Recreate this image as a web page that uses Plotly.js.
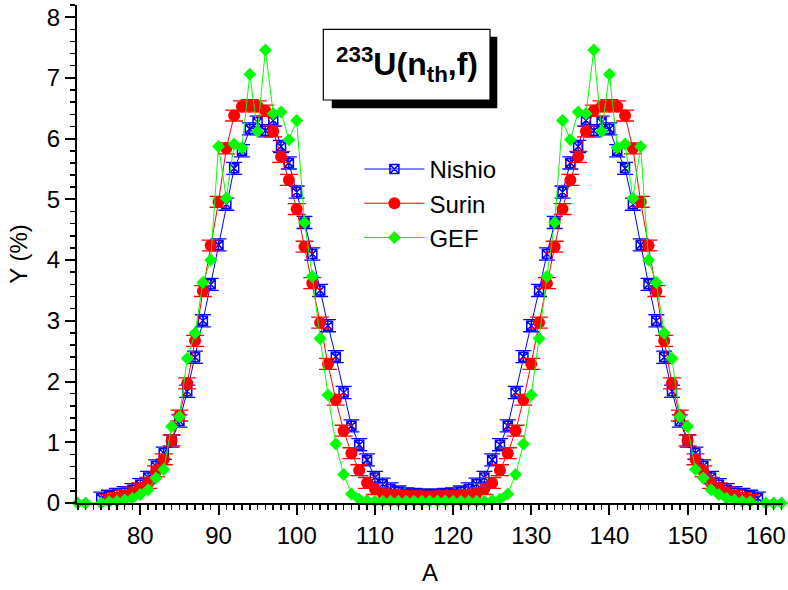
<!DOCTYPE html>
<html>
<head>
<meta charset="utf-8">
<script src="https://cdn.plot.ly/plotly-3.0.1.min.js"></script>
<style>
  html, body { margin: 0; padding: 0; background: #fff; }
  #chart { width: 788px; height: 590px; }
</style>
</head>
<body>
<div id="chart"></div>
<script>
// Mass yields of 233U(nth,f): Nishio and Surin measurements, GEF calculation.
const nishioA = [75,76,77,78,79,80,81,82,83,84,85,86,87,88,89,90,91,92,93,94,95,96,97,98,99,100,
  101,102,103,104,105,106,107,108,109,110,111,112,113,114,115,116,117,118,119,120,121,122,123,124,125,
  126,127,128,129,130,131,132,133,134,135,136,137,138,139,140,141,142,143,144,145,146,147,148,149,150,
  151,152,153,154,155,156,157,158,159];
const nishioY = [
  0.08,0.11,0.14,0.17,0.22,0.30,0.42,0.61,0.82,1.02,
  1.35,1.84,2.40,3.00,3.60,4.25,4.92,5.51,5.80,6.16,
  6.27,6.13,6.30,5.87,5.60,5.12,4.62,4.10,3.50,2.92,
  2.41,1.82,1.27,0.96,0.71,0.42,0.31,0.23,0.18,0.15,
  0.14,0.13,0.13,0.13,0.14,0.15,0.18,0.23,0.31,0.42,
  0.71,0.96,1.27,1.82,2.41,2.92,3.50,4.10,4.62,5.12,
  5.60,5.87,6.30,6.13,6.27,6.16,5.80,5.51,4.92,4.25,
  3.60,3.00,2.40,1.84,1.35,1.02,0.82,0.61,0.42,0.30,
  0.22,0.17,0.14,0.11,0.08];

const surinA = [76,77,78,79,80,81,82,83,84,85,86,87,88,89,90,91,92,93,94,95,96,97,98,99,100,
  101,102,103,104,105,106,107,108,109,110,111,112,113,114,115,116,117,118,119,120,121,122,123,124,125,
  126,127,128,129,130,131,132,133,134,135,136,137,138,139,140,141,142,143,144,145,146,147,148,149,150,
  151,152,153,154,155,156,157,158];
const surinY = [
  0.05,0.08,0.12,0.17,0.24,0.33,0.52,0.72,1.03,1.44,
  1.97,2.67,3.49,4.24,4.96,5.84,6.38,6.53,6.55,6.53,
  6.46,6.12,5.70,5.32,4.84,4.22,3.62,2.97,2.29,1.70,
  1.19,0.82,0.54,0.33,0.23,0.16,0.13,0.12,0.11,0.11,
  0.10,0.10,0.10,0.11,0.11,0.12,0.13,0.16,0.23,0.33,
  0.54,0.82,1.19,1.70,2.29,2.97,3.62,4.22,4.84,5.32,
  5.70,6.12,6.46,6.53,6.55,6.53,6.38,5.84,4.96,4.24,
  3.49,2.67,1.97,1.44,1.03,0.72,0.52,0.33,0.24,0.17,
  0.12,0.08,0.05];

const gefA = [72,73,75,76,77,78,79,80,81,82,83,84,85,86,87,88,89,90,91,92,93,94,95,96,97,98,99,100,
  101,102,103,104,105,106,107,108,109,110,111,112,113,114,115,116,117,118,119,120,121,122,123,124,125,
  126,127,128,129,130,131,132,133,134,135,136,137,138,139,140,141,142,143,144,145,146,147,148,149,150,
  151,152,153,154,155,156,157,158,160,161,162];
const gefY = [
  0,0,
  0,0.02,0.03,0.05,0.08,0.14,0.22,0.41,0.55,1.26,
  1.42,2.38,2.80,3.63,4.00,5.87,5.02,5.91,5.85,7.06,
  6.12,7.46,6.41,6.44,5.98,6.30,4.62,3.73,2.71,1.78,
  0.97,0.47,0.15,0.06,0.04,0.03,0.03,0.03,0.03,0.03,
  0.03,0.03,0.03,0.03,0.03,0.03,0.03,0.03,0.03,0.03,
  0.04,0.06,0.15,0.47,0.97,1.78,2.71,3.73,4.62,6.30,
  5.98,6.44,6.41,7.46,6.12,7.06,5.85,5.91,5.02,5.87,
  4.00,3.63,2.80,2.38,1.42,1.26,0.55,0.41,0.22,0.14,
  0.08,0.05,0.03,0.02,
  0,0,0];

const seriesNames = ['Nishio', 'Surin', 'GEF'];
const nishioErr = 0.10;
const surinErr = 0.09;

const FONT = 'Liberation Sans, Arial, sans-serif';
const BLUE = '#0000ff', RED = '#ff0000', GREEN = '#00ff00';

const traces = [
  {
    x: nishioA, y: nishioY, name: seriesNames[0], type: 'scatter', mode: 'lines+markers',
    line: { color: BLUE, width: 1 },
    marker: { symbol: 'square-x-open', size: 9, color: BLUE, line: { color: BLUE, width: 1.5 } },
    error_y: { type: 'constant', value: nishioErr, color: BLUE, thickness: 1.3, width: 8 },
    cliponaxis: false
  },
  {
    x: surinA, y: surinY, name: seriesNames[1], type: 'scatter', mode: 'lines+markers',
    line: { color: RED, width: 1 },
    marker: { symbol: 'circle', size: 12, color: RED },
    error_y: { type: 'constant', value: surinErr, color: RED, thickness: 1.3, width: 9 },
    cliponaxis: false
  },
  {
    x: gefA, y: gefY, name: seriesNames[2], type: 'scatter', mode: 'lines+markers',
    line: { color: GREEN, width: 1 },
    marker: { symbol: 'diamond', size: 10, color: GREEN },
    cliponaxis: false
  }
];

const xRange = [71.9, 162.2];
const yRange = [0, 8.2];

const baseAxis = {
  showline: true, linecolor: '#000', linewidth: 2,
  showgrid: false, zeroline: false,
  tickcolor: '#000', tickwidth: 2, ticklen: 10,
  tickfont: { family: FONT, size: 24, color: '#000' }
};

const layout = {
  width: 788, height: 590,
  margin: { l: 77, r: 5, t: 5, b: 87 },
  paper_bgcolor: '#fff', plot_bgcolor: '#fff',
  font: { family: FONT, color: '#000' },
  showlegend: true,
  legend: {
    x: 0.40, y: 0.715, xanchor: 'left', yanchor: 'top',
    bgcolor: 'rgba(0,0,0,0)', borderwidth: 0,
    font: { family: FONT, size: 24, color: '#000' },
    itemwidth: 60, tracegroupgap: 0
  },
  xaxis: Object.assign({}, baseAxis, {
    range: xRange, dtick: 10, tick0: 0, ticks: 'outside',
    minor: { dtick: 1, ticks: 'outside', ticklen: 5, tickwidth: 1.5, tickcolor: '#000', showgrid: false },
    title: { text: 'A', font: { family: FONT, size: 24 }, standoff: 16 },
    automargin: false
  }),
  xaxis2: Object.assign({}, baseAxis, {
    range: xRange, dtick: 10, tick0: 0, ticks: 'inside',
    overlaying: 'x', side: 'top', anchor: 'y', showticklabels: false,
    minor: { dtick: 1, ticks: 'inside', ticklen: 6, tickwidth: 1.5, tickcolor: '#000', showgrid: false }
  }),
  yaxis: Object.assign({}, baseAxis, {
    range: yRange, dtick: 1, tick0: 0, ticks: 'outside',
    minor: { dtick: 0.2, ticks: 'outside', ticklen: 5, tickwidth: 1.5, tickcolor: '#000', showgrid: false },
    title: { text: 'Y (%)', font: { family: FONT, size: 24 }, standoff: 12 },
    automargin: false
  }),
  yaxis2: Object.assign({}, baseAxis, {
    range: yRange, dtick: 1, tick0: 0, ticks: 'inside',
    overlaying: 'y', side: 'right', anchor: 'x', showticklabels: false,
    minor: { dtick: 0.2, ticks: 'inside', ticklen: 6, tickwidth: 1.5, tickcolor: '#000', showgrid: false }
  }),
  shapes: [
    // drop shadow of the reaction label box
    { type: 'rect', xref: 'paper', yref: 'paper', x0: 0.3608, x1: 0.5953, y0: 0.7926, y1: 0.9363,
      fillcolor: '#000', line: { width: 0 }, layer: 'above' },
    // reaction label box
    { type: 'rect', xref: 'paper', yref: 'paper', x0: 0.3489, x1: 0.5850, y0: 0.8092, y1: 0.9512,
      fillcolor: '#fff', line: { color: '#000', width: 1.2 }, layer: 'above' }
  ],
  annotations: [
    { xref: 'paper', yref: 'paper', x: 0.4674, y: 0.8815, xanchor: 'center', yanchor: 'middle',
      showarrow: false,
      text: '<sup>233</sup>U(n<sub>th</sub>,f)',
      font: { family: FONT, size: 32, weight: 'bold', color: '#000' } }
  ]
};

Plotly.newPlot('chart', traces, layout, { displayModeBar: false, staticPlot: true });
</script>
</body>
</html>
